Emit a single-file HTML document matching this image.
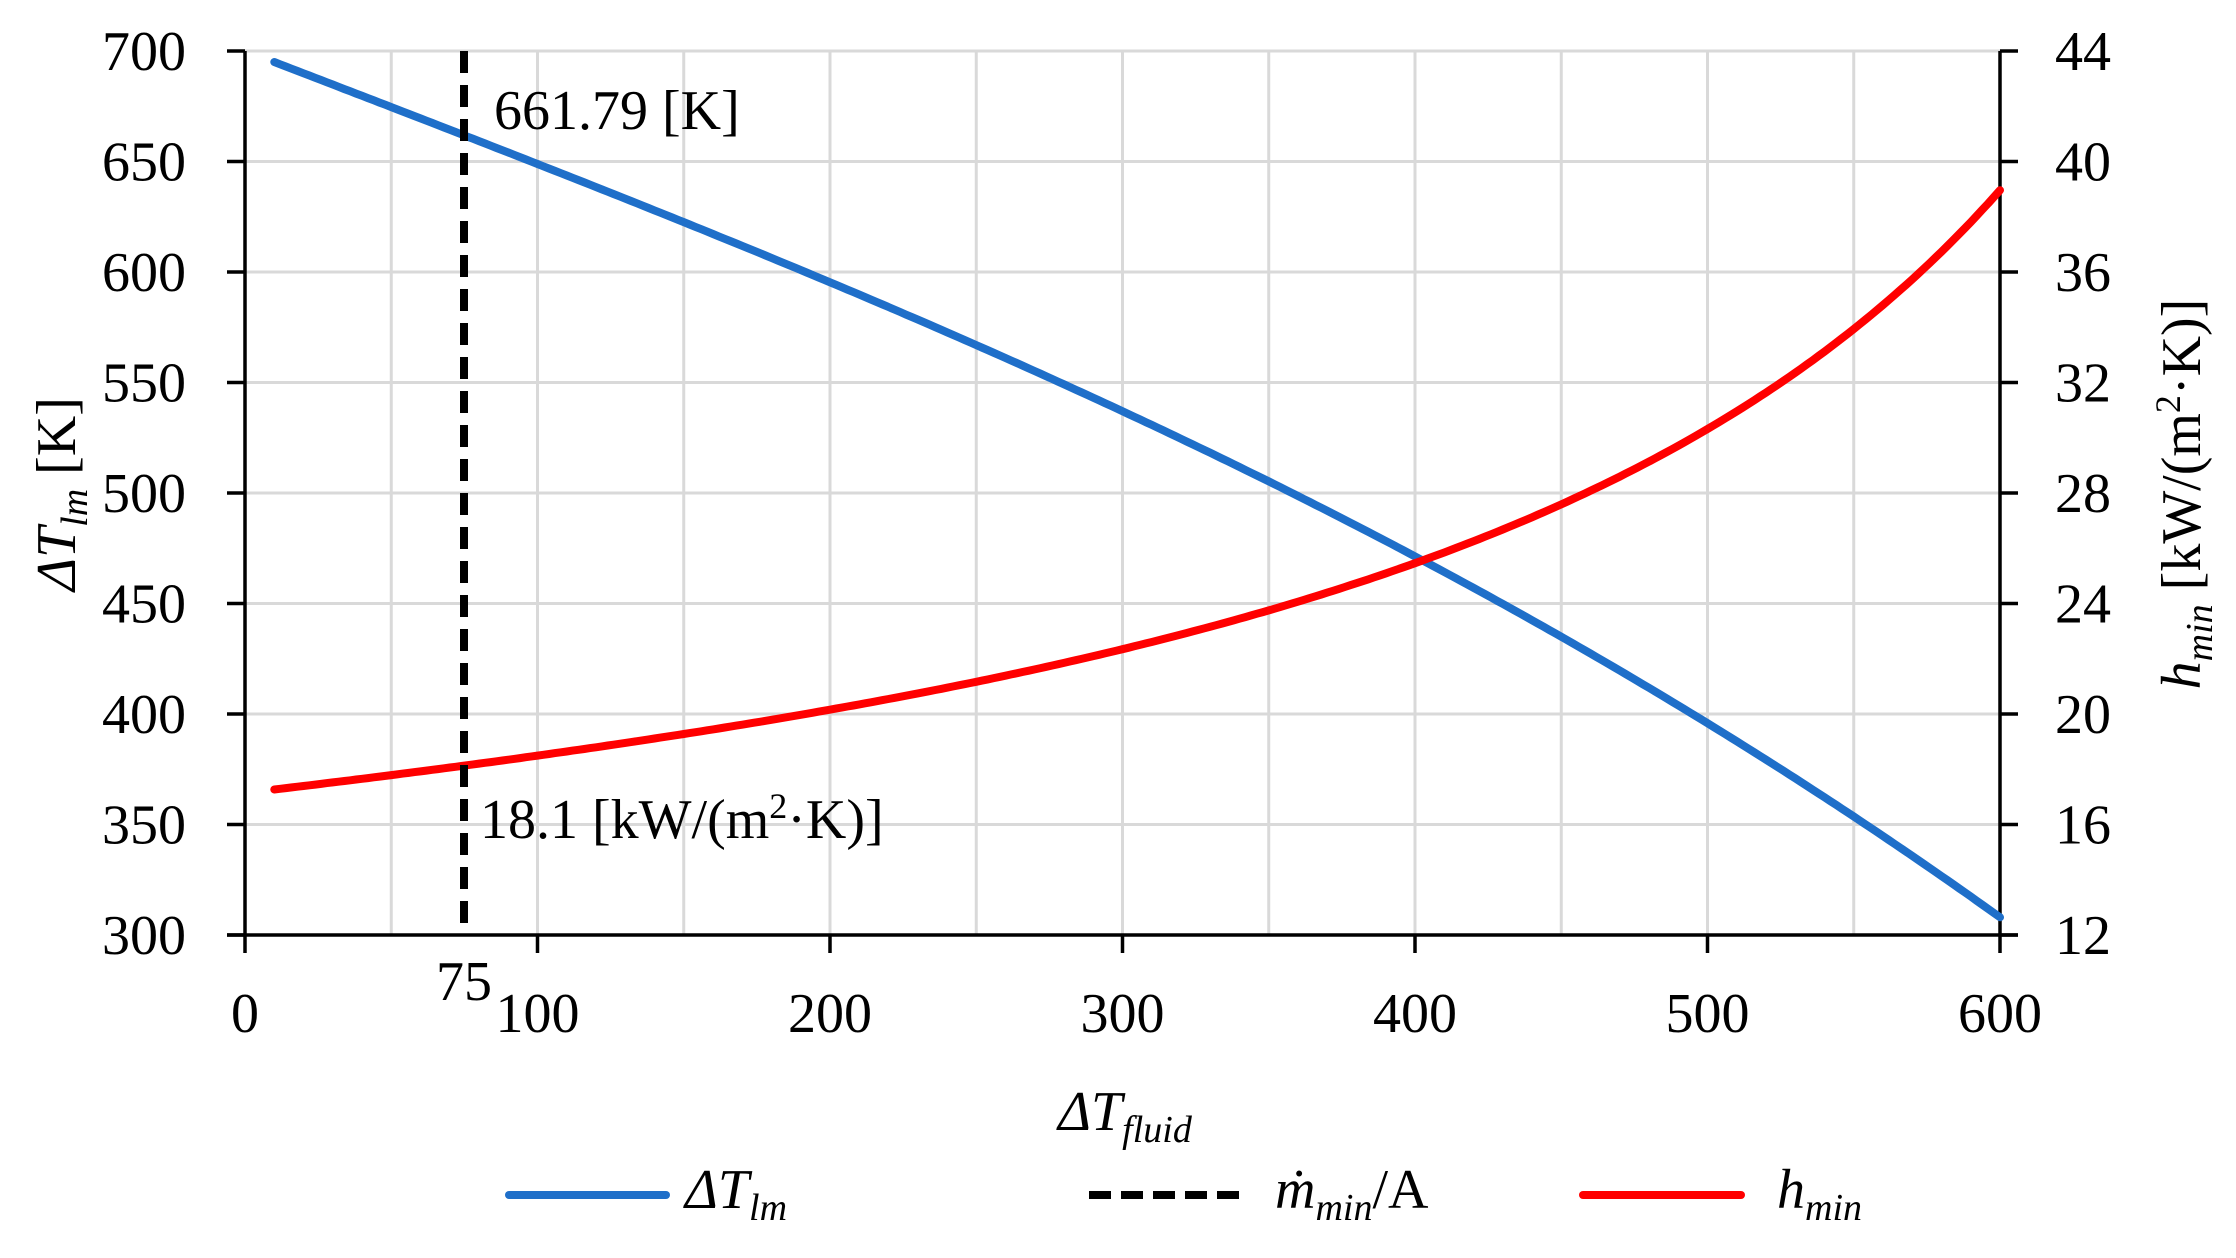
<!DOCTYPE html>
<html><head><meta charset="utf-8"><style>
html,body{margin:0;padding:0;background:#fff;}
svg text{font-family:"Liberation Serif",serif;fill:#000;}
</style></head><body>
<svg id="c" width="2236" height="1253" viewBox="0 0 2236 1253" xmlns="http://www.w3.org/2000/svg">
<g id="grid" stroke="#d9d9d9" stroke-width="3"></g>
<g id="axes" stroke="#000" stroke-width="3.5" fill="none"></g>
<g id="labels" font-size="56"></g>
<path id="blue" fill="none" stroke="#1f6fc9" stroke-width="8" stroke-linecap="round" stroke-linejoin="round"/>
<path id="red" fill="none" stroke="#ff0000" stroke-width="8" stroke-linecap="round" stroke-linejoin="round"/>
<line x1="464" y1="51" x2="464" y2="935" stroke="#000" stroke-width="8" stroke-dasharray="22,12"/>
<text x="494" y="129" font-size="56">661.79 [K]</text>
<text x="480" y="838" font-size="56">18.1 [kW/(m<tspan font-size="36" dy="-20">2</tspan><tspan dy="20">·K)]</tspan></text>
<text x="464" y="1000" font-size="56" text-anchor="middle">75</text>
<text transform="translate(75,494) rotate(-90)" text-anchor="middle" font-size="56"><tspan font-style="italic">ΔT</tspan><tspan font-style="italic" font-size="38" dy="12">lm</tspan><tspan dy="-12"> [K]</tspan></text>
<text transform="translate(2200,494) rotate(-90)" text-anchor="middle" font-size="56"><tspan font-style="italic">h</tspan><tspan font-style="italic" font-size="38" dy="12">min</tspan><tspan dy="-12"> [kW/(m</tspan><tspan font-size="36" dy="-20">2</tspan><tspan dy="20">·K)]</tspan></text>
<text x="1125" y="1130" text-anchor="middle" font-size="56" font-style="italic">ΔT<tspan font-size="38" dy="12">fluid</tspan></text>
<line x1="509" y1="1195" x2="666" y2="1195" stroke="#1f6fc9" stroke-width="8" stroke-linecap="round"/>
<text x="685" y="1208" font-size="56" font-style="italic">ΔT<tspan font-size="38" dy="12">lm</tspan></text>
<line x1="1089" y1="1195" x2="1247" y2="1195" stroke="#000" stroke-width="8" stroke-dasharray="22,10"/>
<text x="1275" y="1208" font-size="56"><tspan font-style="italic">ṁ</tspan><tspan font-style="italic" font-size="38" dy="12">min</tspan><tspan dy="-12">/A</tspan></text>
<line x1="1583" y1="1195" x2="1741" y2="1195" stroke="#ff0000" stroke-width="8" stroke-linecap="round"/>
<text x="1777" y="1208" font-size="56" font-style="italic">h<tspan font-size="38" dy="12">min</tspan></text>
</svg>
<script>
var NS="http://www.w3.org/2000/svg";
function X(v){return 245+v*2.925;}
function YL(v){return 51+(700-v)*2.21;}
function YR(v){return 51+(44-v)*27.625;}
function el(p,t,a,txt){var e=document.createElementNS(NS,t);for(var k in a)e.setAttribute(k,a[k]);if(txt!==undefined)e.textContent=txt;document.getElementById(p).appendChild(e);}
for(var v=50;v<=600;v+=50){el("grid","line",{x1:X(v),y1:51,x2:X(v),y2:935});}
for(var t=300;t<=700;t+=50){var y=YL(t);el("grid","line",{x1:245,y1:y,x2:2000,y2:y});
 el("axes","line",{x1:227,y1:y,x2:245,y2:y});
 el("labels","text",{x:186,y:y+19,"text-anchor":"end"},String(t));}
for(var r=12;r<=44;r+=4){var y=YR(r);el("axes","line",{x1:2000,y1:y,x2:2018,y2:y});
 el("labels","text",{x:2055,y:y+19},String(r));}
for(var v=0;v<=600;v+=100){el("axes","line",{x1:X(v),y1:935,x2:X(v),y2:953});
 el("labels","text",{x:X(v),y:1032,"text-anchor":"middle"},String(v));}
el("axes","line",{x1:245,y1:51,x2:245,y2:935});
el("axes","line",{x1:2000,y1:51,x2:2000,y2:935});
el("axes","line",{x1:227,y1:935,x2:2018,y2:935});
var P=[[10,695],[75,661.8],[300,537],[600,308]];
function f(x){var s=0;for(var i=0;i<4;i++){var t=P[i][1];for(var j=0;j<4;j++)if(j!=i)t*=(x-P[j][0])/(P[i][0]-P[j][0]);s+=t;}return s;}
var db="",dr="";
for(var x=10;x<=600;x+=2){var v=f(x),h=12000/v;
 db+=(x==10?"M":"L")+X(x).toFixed(1)+","+YL(v).toFixed(1)+" ";
 dr+=(x==10?"M":"L")+X(x).toFixed(1)+","+YR(h).toFixed(1)+" ";}
document.getElementById("blue").setAttribute("d",db);
document.getElementById("red").setAttribute("d",dr);
</script>
</body></html>
